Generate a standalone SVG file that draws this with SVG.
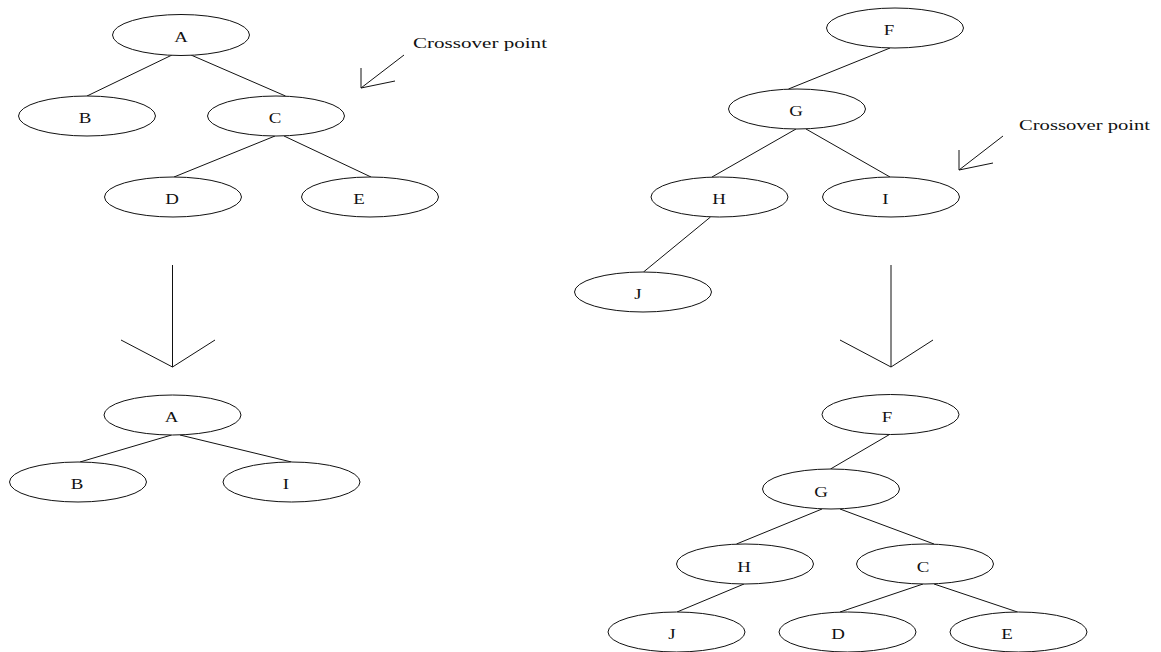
<svg xmlns="http://www.w3.org/2000/svg" width="1161" height="652" viewBox="0 0 1161 652">
<style>
.n ellipse{fill:#fff;stroke:#111;stroke-width:1}
.n text,.lbl{font-family:"Liberation Serif","Times New Roman",serif;font-size:15.5px;fill:#111}
.n text{text-anchor:middle}
.e line,.e path{stroke:#111;stroke-width:1;fill:none}
</style>
<rect width="1161" height="652" fill="#fff"/>
<g id="connectors" class="e">
<line x1="172" y1="55" x2="87" y2="96"/>
<line x1="191" y1="55" x2="285.5" y2="96"/>
<line x1="275" y1="136" x2="174" y2="177"/>
<line x1="284" y1="136" x2="371" y2="177"/>
<line x1="890" y1="48" x2="788.5" y2="89"/>
<line x1="796" y1="129" x2="712" y2="177"/>
<line x1="806" y1="129" x2="890" y2="177"/>
<line x1="710.5" y1="217" x2="643.5" y2="272"/>
<line x1="171.5" y1="435" x2="80" y2="462"/>
<line x1="180" y1="435" x2="291.5" y2="462"/>
<line x1="889.5" y1="434.5" x2="830.5" y2="469"/>
<line x1="822" y1="509" x2="736.5" y2="544"/>
<line x1="840" y1="509" x2="934" y2="544"/>
<line x1="744" y1="584" x2="677" y2="612"/>
<line x1="923" y1="584" x2="840" y2="612"/>
<line x1="934" y1="584" x2="1017.5" y2="612"/>
<path d="M172.5 265V367M121 340L172.5 367L215 340"/>
<path d="M891 265V367M840 340L891 367L933 340"/>
<path d="M404 55L361 88V68M361 88L395 81"/>
<path d="M1003 136L959 170V150M959 170L993 163"/>
</g>
<text class="lbl" x="413" y="48" textLength="134" lengthAdjust="spacingAndGlyphs">Crossover point</text>
<text class="lbl" x="1019" y="130" textLength="131" lengthAdjust="spacingAndGlyphs">Crossover point</text>
<g id="A1" class="n"><ellipse cx="181" cy="35" rx="68.5" ry="20.5"/><text transform="translate(181,42) scale(1.22,1)">A</text></g>
<g id="B1" class="n"><ellipse cx="87" cy="116" rx="68.5" ry="20"/><text transform="translate(85,122.5) scale(1.22,1)">B</text></g>
<g id="C1" class="n"><ellipse cx="276" cy="116" rx="68.5" ry="20"/><text transform="translate(275,122.5) scale(1.22,1)">C</text></g>
<g id="D1" class="n"><ellipse cx="173" cy="197" rx="68.5" ry="20"/><text transform="translate(172,204) scale(1.22,1)">D</text></g>
<g id="E1" class="n"><ellipse cx="370" cy="197" rx="68.5" ry="20"/><text transform="translate(359,204) scale(1.22,1)">E</text></g>
<g id="F1" class="n"><ellipse cx="895" cy="28" rx="68.5" ry="20"/><text transform="translate(889,35) scale(1.22,1)">F</text></g>
<g id="G1" class="n"><ellipse cx="797" cy="109" rx="68.5" ry="20"/><text transform="translate(796,116) scale(1.22,1)">G</text></g>
<g id="H1" class="n"><ellipse cx="719.5" cy="197" rx="68.5" ry="20"/><text transform="translate(719,204) scale(1.22,1)">H</text></g>
<g id="I1" class="n"><ellipse cx="891" cy="197" rx="68.5" ry="20"/><text transform="translate(885.5,204) scale(1.22,1)">I</text></g>
<g id="J1" class="n"><ellipse cx="643" cy="292" rx="68.5" ry="20"/><text transform="translate(638,299) scale(1.22,1)">J</text></g>
<g id="A2" class="n"><ellipse cx="172.5" cy="415" rx="68.5" ry="20"/><text transform="translate(171.5,422) scale(1.22,1)">A</text></g>
<g id="B2" class="n"><ellipse cx="78" cy="482" rx="68.5" ry="20"/><text transform="translate(77,489) scale(1.22,1)">B</text></g>
<g id="I2" class="n"><ellipse cx="291.5" cy="482" rx="68.5" ry="20"/><text transform="translate(286,489) scale(1.22,1)">I</text></g>
<g id="F2" class="n"><ellipse cx="890.5" cy="414.5" rx="68.5" ry="20"/><text transform="translate(887,422) scale(1.22,1)">F</text></g>
<g id="G2" class="n"><ellipse cx="831" cy="489" rx="68.5" ry="20"/><text transform="translate(821,496.5) scale(1.22,1)">G</text></g>
<g id="H2" class="n"><ellipse cx="745" cy="564" rx="68.5" ry="20"/><text transform="translate(744,571.5) scale(1.22,1)">H</text></g>
<g id="C2" class="n"><ellipse cx="925" cy="564" rx="68.5" ry="20"/><text transform="translate(923,571.5) scale(1.22,1)">C</text></g>
<g id="J2" class="n"><ellipse cx="676.5" cy="632" rx="68.5" ry="20"/><text transform="translate(672,639) scale(1.22,1)">J</text></g>
<g id="D2" class="n"><ellipse cx="847.5" cy="632" rx="68.5" ry="20"/><text transform="translate(838,639) scale(1.22,1)">D</text></g>
<g id="E2" class="n"><ellipse cx="1018.5" cy="632" rx="68.5" ry="20"/><text transform="translate(1007,639) scale(1.22,1)">E</text></g>
</svg>
